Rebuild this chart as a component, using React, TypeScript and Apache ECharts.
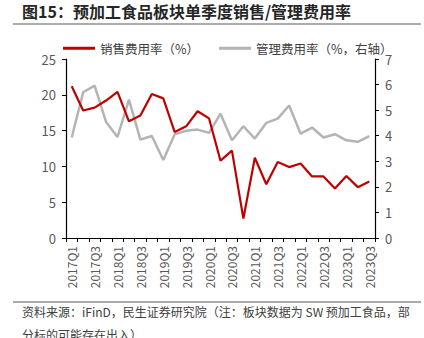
import React, { useEffect, useRef } from "react";
import * as echarts from "echarts";

const categories = [
  "2017Q1","2017Q2","2017Q3","2017Q4","2018Q1","2018Q2","2018Q3","2018Q4",
  "2019Q1","2019Q2","2019Q3","2019Q4","2020Q1","2020Q2","2020Q3","2020Q4",
  "2021Q1","2021Q2","2021Q3","2021Q4","2022Q1","2022Q2","2022Q3","2022Q4",
  "2023Q1","2023Q2","2023Q3",
];
const salesRate = [
  21.2, 17.8, 18.2, 19.2, 20.4, 16.3, 17.1, 20.1, 19.5, 14.8, 15.6, 17.7, 16.7,
  10.8, 12.2, 2.7, 11.2, 7.5, 10.6, 9.9, 10.4, 8.6, 8.6, 6.9, 8.65, 7.1, 7.9,
];
const mgmtRate = [
  3.93, 5.7, 5.96, 4.54, 3.95, 5.41, 3.85, 3.99, 3.05, 4.06, 4.19, 4.24, 4.11,
  4.86, 3.82, 4.37, 3.89, 4.5, 4.67, 5.18, 4.08, 4.32, 3.93, 4.06, 3.82, 3.76, 3.98,
];
const leftTicks = { min: 0, max: 25, interval: 5 };
const rightTicks = { min: 0, max: 7, interval: 1 };

const FONT = "'Noto Sans CJK SC', 'Noto Sans', sans-serif";

export default function App() {
  const ref = useRef<HTMLDivElement>(null);
  useEffect(() => {
    if (!ref.current) return;
    const chart = echarts.init(ref.current, null, { renderer: "svg" });
    chart.setOption({
      animation: false,
      backgroundColor: "#ffffff",
      textStyle: { fontFamily: FONT },
      grid: { left: 66, right: 49, top: 59, bottom: 100 },
      legend: {
        left: 58,
        top: 37,
        itemWidth: 32,
        itemHeight: 3,
        itemGap: 20,
        icon: "rect",
        textStyle: { fontSize: 12.5, color: "#404040", fontFamily: FONT },
        data: ["销售费用率（%）", "管理费用率（%，右轴）"],
      },
      xAxis: {
        type: "category",
        data: categories,
        boundaryGap: true,
        axisLine: { lineStyle: { color: "#000000", width: 1.2 } },
        axisTick: { show: true, interval: 0, length: 4, lineStyle: { color: "#000000" } },
        axisLabel: {
          interval: 1,
          rotate: 90,
          fontSize: 12,
          color: "#595959",
          margin: 8,
          fontFamily: FONT,
        },
        splitLine: { show: false },
      },
      yAxis: [
        {
          type: "value",
          ...leftTicks,
          axisLine: { show: true, lineStyle: { color: "#000000", width: 1.2 } },
          axisTick: { show: true, length: 4, lineStyle: { color: "#000000" } },
          axisLabel: { fontSize: 13, color: "#595959", margin: 10, fontFamily: FONT },
          splitLine: { show: false },
        },
        {
          type: "value",
          ...rightTicks,
          position: "right",
          axisLine: { show: true, lineStyle: { color: "#000000", width: 1.2 } },
          axisTick: { show: true, length: 4, lineStyle: { color: "#000000" } },
          axisLabel: { fontSize: 13, color: "#595959", margin: 10, fontFamily: FONT },
          splitLine: { show: false },
        },
      ],
      series: [
        {
          name: "销售费用率（%）",
          type: "line",
          data: salesRate,
          yAxisIndex: 0,
          symbol: "none",
          lineStyle: { color: "#C00000", width: 2.2 },
          itemStyle: { color: "#C00000" },
          z: 3,
        },
        {
          name: "管理费用率（%，右轴）",
          type: "line",
          data: mgmtRate,
          yAxisIndex: 1,
          symbol: "none",
          lineStyle: { color: "#B4B4B4", width: 2.5 },
          itemStyle: { color: "#B4B4B4" },
          z: 2,
        },
      ],
      graphic: [
        {
          type: "text",
          left: 22,
          top: 3,
          style: {
            text: "图15：预加工食品板块单季度销售/管理费用率",
            font: `bold 16px ${FONT}`,
            fill: "#262626",
          },
        },
        {
          type: "line",
          shape: { x1: 13, y1: 24, x2: 421, y2: 24 },
          style: { stroke: "#595959", lineWidth: 1 },
        },
        {
          type: "line",
          shape: { x1: 13, y1: 302, x2: 421, y2: 302 },
          style: { stroke: "#595959", lineWidth: 1 },
        },
        {
          type: "text",
          left: 22,
          top: 305,
          style: {
            text: "资料来源：iFinD，民生证券研究院（注：板块数据为 SW 预加工食品，部",
            font: `12px ${FONT}`,
            fill: "#404040",
          },
        },
        {
          type: "text",
          left: 22,
          top: 328,
          style: {
            text: "分标的可能存在出入）",
            font: `12px ${FONT}`,
            fill: "#404040",
          },
        },
      ],
    });
    return () => chart.dispose();
  }, []);
  return (
    <div
      ref={ref}
      style={{ position: "absolute", left: 0, top: 0, width: 424, height: 338 }}
    />
  );
}
